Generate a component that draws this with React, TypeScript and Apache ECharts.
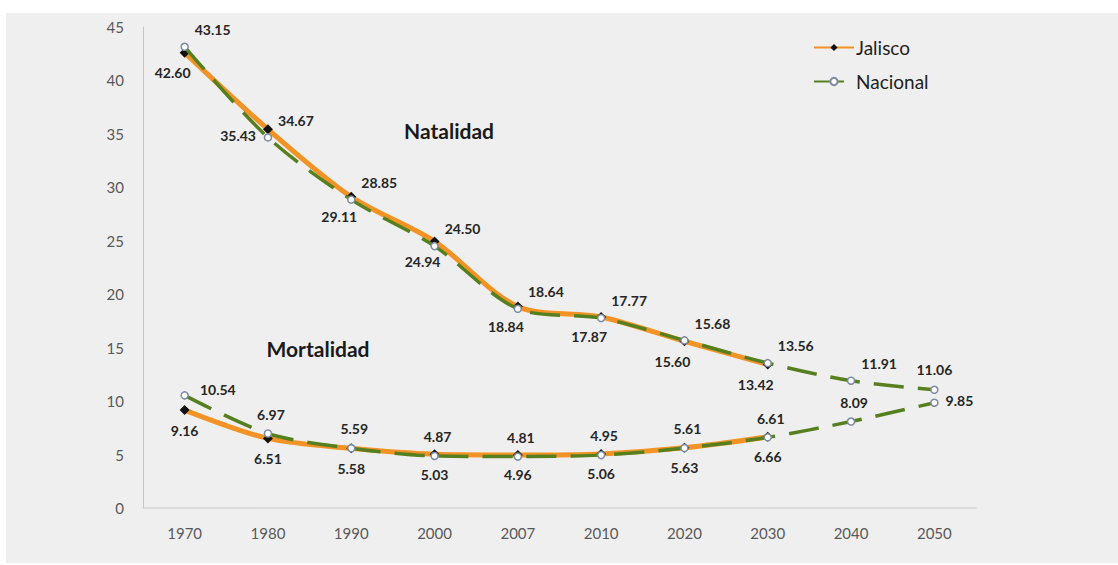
import React, { useEffect, useRef } from "react";
import * as echarts from "echarts";

const years = ["1970", "1980", "1990", "2000", "2007", "2010", "2020", "2030", "2040", "2050"];
const jaliscoNatalidad = [42.6, 35.43, 29.11, 24.94, 18.84, 17.87, 15.6, 13.42];
const nacionalNatalidad = [43.15, 34.67, 28.85, 24.5, 18.64, 17.77, 15.68, 13.56, 11.91, 11.06];
const jaliscoMortalidad = [9.16, 6.51, 5.58, 5.03, 4.96, 5.06, 5.63, 6.66];
const nacionalMortalidad = [10.54, 6.97, 5.59, 4.87, 4.81, 4.95, 5.61, 6.61, 8.09, 9.85];

const ORANGE = "#f39325";
const GREEN = "#56801f";
const FONT = "Lato, 'Open Sans', sans-serif";

export default function App() {
  const ref = useRef<HTMLDivElement>(null);
  useEffect(() => {
    if (!ref.current) return;
    const chart = echarts.init(ref.current, null, { renderer: "svg" });

    const labelBase = {
      show: true,
      fontFamily: FONT,
      fontSize: 14,
      fontWeight: "bold" as const,
      color: "#262626",
      formatter: (p: any) => Number(p.value).toFixed(2),
    };

    const jalLabel = (offset: number[]) => ({ ...labelBase, position: "bottom", offset });
    const nacLabel = (offset: number[]) => ({ ...labelBase, position: "top", offset });

    const jalSeries = (name: string, data: any[], off: number[]) => ({
      name,
      type: "line",
      data,
      smooth: 0.3,
      symbol: "diamond",
      symbolSize: 10,
      itemStyle: { color: "#111" },
      lineStyle: { color: ORANGE, width: 5 },
      label: jalLabel(off),
      z: 2,
    });

    const nacSeries = (name: string, data: any[], off: number[]) => ({
      name,
      type: "line",
      data,
      smooth: 0.3,
      symbol: "circle",
      symbolSize: 7,
      itemStyle: { color: "#ffffff", borderColor: "#7c8aa3", borderWidth: 1.5 },
      lineStyle: { color: GREEN, width: 3.5, type: [30, 14] },
      label: nacLabel(off),
      z: 3,
    });

    const nacMortData = nacionalMortalidad.map((v, i) => {
      if (i === 0) return { value: v, label: { position: "right", offset: [6, -6] } };
      if (i === nacionalMortalidad.length - 1) return { value: v, label: { position: "right", offset: [2, -2] } };
      return v;
    });
    const nacNatData = nacionalNatalidad.map((v, i) => {
      if (i === nacionalNatalidad.length - 1) return { value: v, label: { offset: [0, -4] } };
      return v;
    });
    const jalNatData = jaliscoNatalidad.map((v, i) => {
      if (i === 1) return { value: v, label: { position: "left", offset: [-2, 6] } };
      return v;
    });

    chart.setOption({
      animation: false,
      backgroundColor: "#ffffff",
      graphic: [
        {
          type: "rect",
          shape: { x: 6, y: 13, width: 1112, height: 550 },
          style: { fill: "#efefef" },
          z: -10,
          silent: true,
        },
        {
          type: "text",
          x: 449,
          y: 130,
          style: {
            text: "Natalidad",
            font: `bold 21px ${FONT}`,
            fill: "#1a1a1a",
            textAlign: "center",
            textVerticalAlign: "middle",
          },
        },
        {
          type: "text",
          x: 318,
          y: 348,
          style: {
            text: "Mortalidad",
            font: `bold 21px ${FONT}`,
            fill: "#1a1a1a",
            textAlign: "center",
            textVerticalAlign: "middle",
          },
        },
      ],
      grid: { left: 143, right: 142, top: 27, bottom: 57, outerBoundsMode: "none" },
      legend: {
        orient: "vertical",
        left: 808,
        top: 33,
        itemWidth: 40,
        itemHeight: 9,
        itemGap: 15,
        textStyle: { fontFamily: FONT, fontSize: 19, color: "#222", padding: [0, 0, 0, -3] },
        data: ["Jalisco", "Nacional"],
      },
      xAxis: {
        type: "category",
        data: years,
        boundaryGap: true,
        axisTick: { show: false },
        axisLine: { lineStyle: { color: "#d4d4d4", width: 1.5 } },
        axisLabel: { fontFamily: FONT, fontSize: 15, color: "#595959", margin: 17 },
      },
      yAxis: {
        type: "value",
        min: 0,
        max: 45,
        interval: 5,
        splitLine: { show: false },
        axisTick: { show: false },
        axisLine: { show: true, lineStyle: { color: "#c4c4c4" } },
        axisLabel: { fontFamily: FONT, fontSize: 15, color: "#595959", margin: 19 },
      },
      series: [
        jalSeries("Jalisco", jalNatData, [-12, 3]),
        jalSeries("Jalisco", jaliscoMortalidad, [0, 3]),
        nacSeries("Nacional", nacNatData, [28, -1]),
        nacSeries("Nacional", nacMortData, [3, -3]),
      ],
    });
    return () => chart.dispose();
  }, []);
  return (
    <div
      ref={ref}
      style={{ position: "absolute", left: 0, top: 0, width: 1118, height: 565 }}
    />
  );
}
